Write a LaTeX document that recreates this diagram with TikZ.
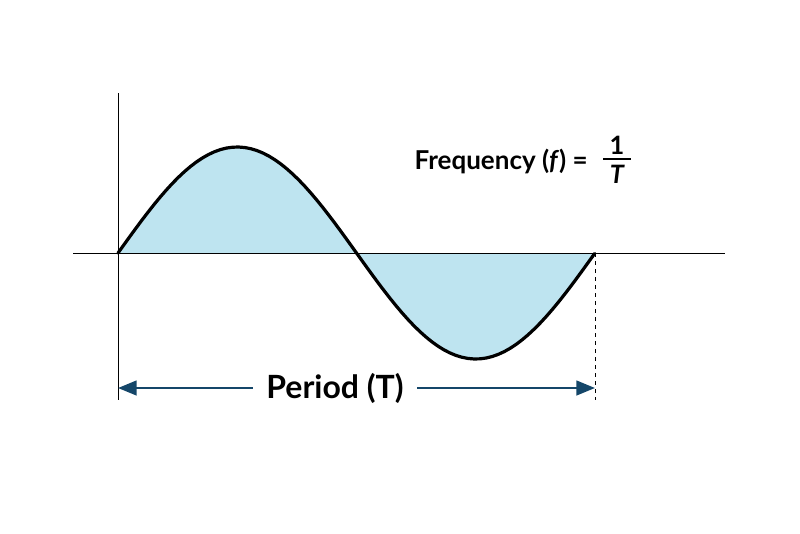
\documentclass[tikz,border=0pt]{standalone}
\usepackage{fontspec}
\setmainfont{Lato}
\usetikzlibrary{arrows.meta}
\definecolor{wavefill}{RGB}{190,228,240}
\definecolor{arrowblue}{RGB}{20,70,105}

\begin{document}
\begin{tikzpicture}[x=0.75pt,y=-0.75pt]
		\useasboundingbox (0,0) rectangle (800,533);
		
		\coordinate (O) at (118,253);
		\coordinate (E) at (595,253);
		
		\fill [wavefill] (O) plot [domain=0:1,samples=80] ({118+477*\x},{253-106*sin(360*\x)}) -- cycle;
		
		\draw (73,253) -- (725,253);
		\draw (O) ++(0,-160) -- (118,400);
		\draw [dashed] (E) -- (595,400);
		
		\draw [line width=2.4pt, line cap=round] plot [domain=0:1,samples=80] ({118+477*\x},{253-106*sin(360*\x)});
		
		\node [inner xsep=10pt] (per) at (335,388) {\fontsize{24}{28}\selectfont\bfseries Period (T)};
		\coordinate (A) at (118,388);
		\coordinate (B) at (595,388);
		\draw [line width=1.8pt, arrowblue, -{Triangle[length=14pt,width=11pt]}] (per) -- (B);
		\draw [line width=1.8pt, arrowblue, -{Triangle[length=14pt,width=11pt]}] (per) -- (A);
		
		\node [anchor=east, inner sep=0pt] (freq) at (588,161) {\fontsize{19.5}{23}\selectfont\bfseries Frequency (\textit{f}) =};
		\node (one) at (617,145) {\fontsize{19}{22}\selectfont\bfseries 1};
		\node (tee) at (617,174) {\fontsize{19}{22}\selectfont\bfseries\itshape T};
		\draw [line width=1pt] (603,159) -- (631,159);
\end{tikzpicture}
\end{document}
